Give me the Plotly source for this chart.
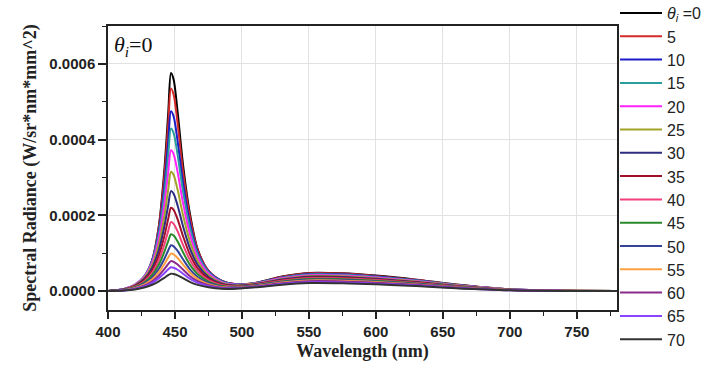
import plotly.graph_objects as go

# Wavelength samples (nm)
wavelength = [400, 412, 420, 427, 433, 438, 442, 445, 447, 449, 452, 456, 461, 467,
              475, 485, 495, 510, 530, 550, 575, 600, 630, 660, 700, 740, 780]

angle_labels = ["<i>θ</i><sub><i>i</i></sub> =0", "5", "10", "15", "20", "25", "30", "35",
                "40", "45", "50", "55", "60", "65", "70"]

# Spectral radiance values in micro-units (1e-6 W/sr*nm*mm^2)
r0  = [0, 4.6, 14.4, 34.6, 80.6, 172.8, 316.8, 472.3, 576, 558.7, 472.3, 334.1, 207.4, 109.9, 53.3, 26.9, 18.2, 21.6, 38.4, 48, 47.0, 40.8, 30.2, 17.3, 4.8, 1.0, 0]
r5  = [0, 5.1, 15.8, 37.5, 83.3, 170.4, 302.3, 442.5, 535, 519.3, 441.7, 316.4, 199.1, 108.2, 53.8, 27.1, 18.4, 21.5, 37.6, 47, 46.1, 40.0, 29.6, 16.9, 4.7, 0.9, 0]
r10 = [0, 5.3, 16.3, 38.0, 81.4, 160.1, 275.5, 396.3, 475, 461.4, 394.9, 286.4, 182.5, 101.6, 51.6, 26.0, 17.8, 20.9, 36, 45, 44.1, 38.3, 28.4, 16.2, 4.5, 0.9, 0]
r15 = [0, 5.4, 16.7, 38.6, 80.3, 152.6, 255.3, 361.0, 429, 417.0, 359.1, 263.5, 170.1, 96.7, 50.0, 25.3, 17.6, 20.7, 35.2, 44, 43.1, 37.4, 27.7, 15.8, 4.4, 0.9, 0]
r20 = [0, 5.3, 16.2, 37.2, 75.5, 139.2, 226.9, 315.7, 372, 361.9, 313.6, 232.8, 152.0, 88.1, 46.4, 23.6, 16.6, 20.0, 33.6, 42, 41.2, 35.7, 26.5, 15.1, 4.2, 0.8, 0]
r25 = [0, 5.0, 15.2, 34.7, 68.9, 123.8, 196.9, 269.5, 315, 306.7, 267.3, 200.7, 132.5, 78.2, 41.9, 21.4, 15.5, 19.1, 32, 40, 39.2, 34, 25.2, 14.4, 4.0, 0.8, 0]
r30 = [0, 4.6, 14.0, 31.7, 61.9, 108.6, 169.0, 227.8, 264, 257.2, 225.5, 171.2, 114.3, 68.7, 37.3, 19.2, 14.4, 18.2, 30.4, 38, 37.2, 32.3, 23.9, 13.7, 3.8, 0.8, 0]
r35 = [0, 4.2, 12.7, 28.6, 55.0, 94.6, 144.1, 191.4, 220, 214.5, 189.2, 145.2, 97.9, 59.8, 33.0, 17.2, 13.3, 17.3, 28.8, 36, 35.3, 30.6, 22.7, 13.0, 3.6, 0.7, 0]
r40 = [0, 3.7, 11.3, 25.5, 48.4, 81.6, 121.9, 159.6, 182, 177.6, 157.6, 122.2, 83.2, 51.5, 28.8, 15.2, 12.1, 16.3, 27.2, 34, 33.3, 28.9, 21.4, 12.2, 3.4, 0.7, 0]
r45 = [0, 3.3, 10.0, 22.5, 42.2, 70.1, 102.8, 132.6, 150, 146.5, 130.7, 102.4, 70.4, 44.2, 25.1, 13.4, 11.1, 15.4, 25.6, 32, 31.4, 27.2, 20.2, 11.5, 3.2, 0.6, 0]
r50 = [0, 2.9, 8.6, 19.4, 35.9, 58.8, 84.7, 107.9, 121, 118.2, 106.1, 84.0, 58.2, 37.1, 21.3, 11.6, 10.0, 14.4, 24, 30, 29.4, 25.5, 18.9, 10.8, 3.0, 0.6, 0]
r55 = [0, 2.5, 7.5, 16.8, 31.0, 49.9, 70.8, 89.0, 99, 96.8, 87.4, 69.9, 48.9, 31.5, 18.3, 10.1, 9.0, 13.4, 22.4, 28, 27.4, 23.8, 17.6, 10.1, 2.8, 0.6, 0]
r60 = [0, 2.1, 6.4, 14.2, 26.0, 41.3, 57.7, 71.6, 79, 77.3, 70.2, 56.7, 40.0, 26.1, 15.3, 8.6, 8.1, 12.4, 20.8, 26, 25.5, 22.1, 16.4, 9.4, 2.6, 0.5, 0]
r65 = [0, 1.8, 5.4, 12.0, 21.7, 34.1, 46.9, 57.5, 63, 61.7, 56.3, 45.9, 32.6, 21.6, 12.8, 7.3, 7.0, 11.0, 18.4, 23, 22.5, 19.6, 14.5, 8.3, 2.3, 0.5, 0]
r70 = [0, 1.4, 4.1, 9.2, 16.6, 25.8, 35.0, 42.3, 46, 45.1, 41.4, 34.0, 24.4, 16.3, 9.8, 5.8, 6.0, 9.9, 16.8, 21, 20.6, 17.9, 13.2, 7.6, 2.1, 0.4, 0]

series = [r0, r5, r10, r15, r20, r25, r30, r35, r40, r45, r50, r55, r60, r65, r70]
UNIT = 1e-6

colors = ["#000000", "#d42a2a", "#1c1cc8", "#2a9d9d", "#ff22ff", "#a3a32a", "#2c2c80",
          "#a0102a", "#f2407a", "#2a8a2a", "#33449a", "#ffa040", "#8a2a8a", "#8a44ff", "#333333"]

x_ticks = [400, 450, 500, 550, 600, 650, 700, 750]
y_ticks = [0.0, 0.0002, 0.0004, 0.0006]

W, H = 706, 371
ML, MR, MT, MB = 108, 89, 26, 61
PW, PH = W - ML - MR, H - MT - MB

def px_x(p):
    return (p - ML) / PW

def px_y(p):
    return (H - MB - p) / PH

fig = go.Figure()
for lab, ys, c in zip(angle_labels, series, colors):
    fig.add_trace(go.Scatter(
        x=wavelength, y=[v * UNIT for v in ys], mode="lines", name=lab,
        line=dict(color=c, width=2, shape="spline", smoothing=0.8),
        showlegend=False,
    ))

# Manual legend (lines + labels) to the right of the plot
shapes = []
annotations = []
for i, (lab, c) in enumerate(zip(angle_labels, colors)):
    yy = 13 + 23.3 * i
    shapes.append(dict(type="line", xref="paper", yref="paper",
                       x0=px_x(620), x1=px_x(662), y0=px_y(yy), y1=px_y(yy),
                       line=dict(color=c, width=2)))
    annotations.append(dict(text=lab, xref="paper", yref="paper", x=px_x(665), y=px_y(yy + 1),
                            xanchor="left", yanchor="middle", showarrow=False,
                            font=dict(family="Liberation Sans, Arial", size=16, color="#222222")))

annotations.append(dict(text="<i>θ</i><sub><i>i</i></sub>=0", xref="paper", yref="paper",
                        x=px_x(112), y=px_y(30), xanchor="left", yanchor="top", showarrow=False,
                        font=dict(family="Liberation Serif, Times New Roman", size=22, color="#111111")))

axis_font = dict(family="Liberation Sans, Arial", size=15, color="#222222", weight="bold")

fig.update_layout(
    width=W, height=H,
    margin=dict(l=ML, r=MR, t=MT, b=MB),
    paper_bgcolor="white", plot_bgcolor="white",
    showlegend=False,
    xaxis=dict(range=[400, 780], tickvals=x_ticks, ticktext=[str(v) for v in x_ticks],
               showline=True, linecolor="#222222", linewidth=1.5, mirror=True,
               ticks="outside", ticklen=7, tickwidth=1.5, tickcolor="#222222",
               minor=dict(ticks="outside", ticklen=4, tickwidth=1.2, tickcolor="#222222", dtick=25, showgrid=False),
               showgrid=True, gridcolor="#e2e2e2", gridwidth=1, zeroline=False,
               tickfont=axis_font,
               title=dict(text="Wavelength (nm)",
                          font=dict(family="Liberation Serif, Times New Roman", size=18, color="#222222", weight="bold"),
                          standoff=6)),
    yaxis=dict(range=[-0.00005, 0.0007], tickvals=y_ticks, tickformat=".4f",
               showline=True, linecolor="#222222", linewidth=1.5, mirror=True,
               ticks="outside", ticklen=8, tickwidth=1.5, tickcolor="#222222",
               minor=dict(ticks="outside", ticklen=4, tickwidth=1.2, tickcolor="#222222", dtick=0.0001, showgrid=False),
               showgrid=True, gridcolor="#e2e2e2", gridwidth=1, zeroline=False,
               tickfont=axis_font,
               title=dict(text="Spectral Radiance (W/sr*nm*mm^2)",
                          font=dict(family="Liberation Serif, Times New Roman", size=18, color="#222222", weight="bold"),
                          standoff=8)),
    shapes=shapes,
    annotations=annotations,
)

fig.write_html("out.html")
